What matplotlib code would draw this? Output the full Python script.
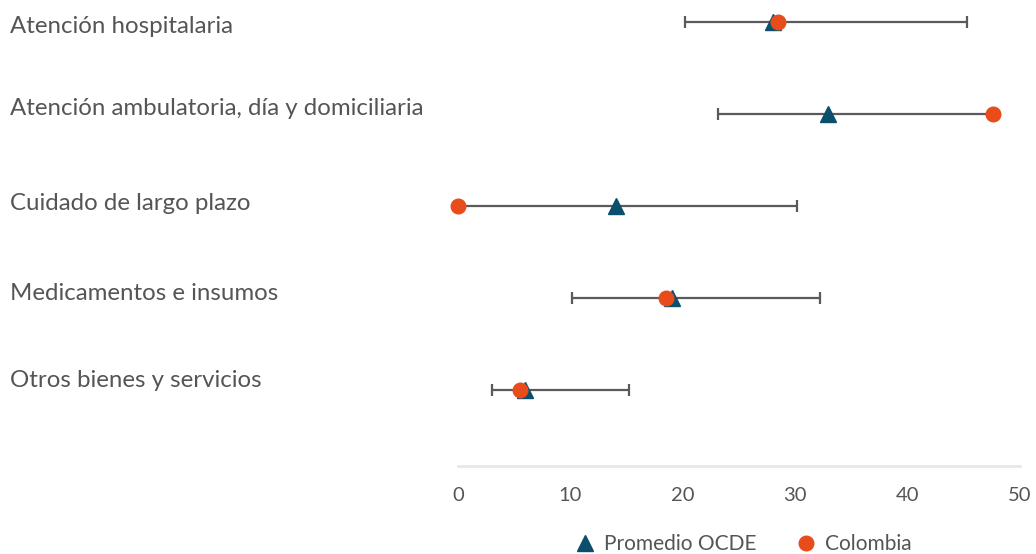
import matplotlib
matplotlib.use("Agg")
import matplotlib.pyplot as plt
import matplotlib.transforms as mtransforms
import numpy as np

# Data
categories = [
    "Atención hospitalaria",
    "Atención ambulatoria, día y domiciliaria",
    "Cuidado de largo plazo",
    "Medicamentos e insumos",
    "Otros bienes y servicios",
]
range_min = [20.2, 23.1, 0.0, 10.1, 3.0]
range_max = [45.3, 47.6, 30.2, 32.2, 15.2]
ocde_avg = [28.0, 32.9, 14.1, 19.0, 6.0]
colombia = [28.5, 47.6, 0.0, 18.5, 5.5]
xticks = [0, 10, 20, 30, 40, 50]

TEXT = "#555555"
BLUE = "#0b4f6c"
ORANGE = "#e84c1a"
GRAY = "#5a5a5a"

plt.rcParams['font.family'] = ['Lato', 'DejaVu Sans']

fig = plt.figure(figsize=(10.36, 5.54), dpi=100)
ax = fig.add_axes([458 / 1036, 1 - 466 / 554, (1020 - 458) / 1036, 466 / 554])

y = np.arange(len(categories))
lo = np.array(range_min)
hi = np.array(range_max)
mid = (lo + hi) / 2
half = (hi - lo) / 2

# range whiskers, then OCDE average and Colombia markers on top
ax.errorbar(mid, y, xerr=half, fmt='none', ecolor=GRAY, elinewidth=1.6,
            capsize=4.3, capthick=1.6, zorder=2, clip_on=False)
ax.plot(ocde_avg, y, linestyle='none', marker='^', markersize=11,
        color=BLUE, zorder=3, clip_on=False, label="Promedio OCDE")
ax.plot(colombia, y, linestyle='none', marker='o', markersize=10.5,
        color=ORANGE, zorder=4, clip_on=False, label="Colombia")

ax.set_xlim(0, 50)
ax.set_ylim(4.83, -0.24)
ax.set_xticks(xticks)
ax.set_yticks([])
ax.tick_params(axis='x', length=0, pad=15, labelsize=14.5, labelcolor=TEXT)

for side in ['top', 'right', 'left']:
    ax.spines[side].set_visible(False)
ax.spines['bottom'].set_color('#e8e8e8')
ax.spines['bottom'].set_linewidth(2)

# category labels at the left edge of the figure
trans = mtransforms.blended_transform_factory(fig.transFigure, ax.transData)
label_offsets = [0.05, -0.06, -0.03, -0.05, -0.10]
for i, cat in enumerate(categories):
    ax.text(10 / 1036, y[i] + label_offsets[i], cat, transform=trans,
            ha='left', va='center', fontsize=17.3, color=TEXT)

leg = fig.legend(loc='center', bbox_to_anchor=(742 / 1036, 1 - 544 / 554),
                 ncol=2, frameon=False, fontsize=15, handletextpad=0.3,
                 columnspacing=1.8, handlelength=1.2)
for t in leg.get_texts():
    t.set_color(TEXT)

fig.savefig("out.png", dpi=100)
